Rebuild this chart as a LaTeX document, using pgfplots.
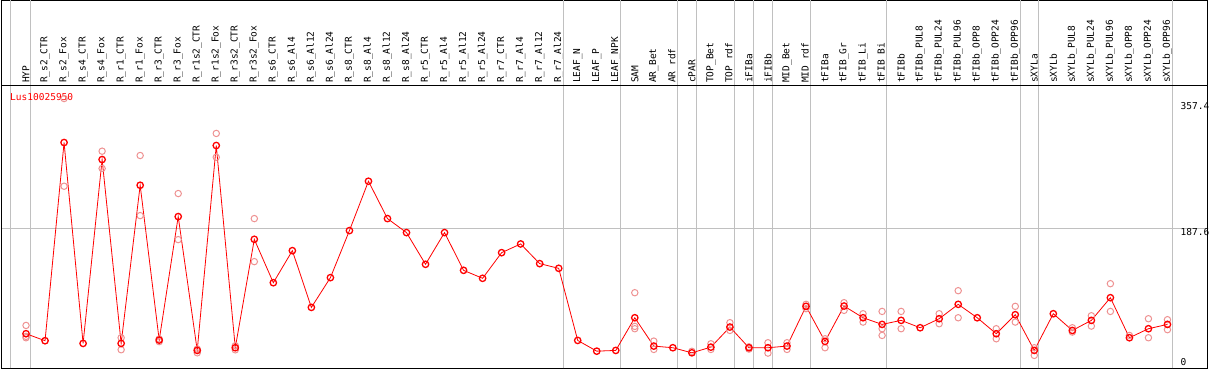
\documentclass[border=0pt]{standalone}
\usepackage{pgfplots}
\pgfplotsset{compat=1.18}
\usepackage{fontspec}
\newfontfamily\mono{DejaVu Sans Mono}
\definecolor{rep}{RGB}{238,146,146}
\definecolor{gridc}{RGB}{192,192,192}
\begin{document}
\begin{tikzpicture}
\begin{axis}[
 scale only axis, width=1204.5pt, height=367.5pt,
 xmin=-1.289, xmax=62.105, ymin=0, ymax=493.5,
 axis line style={black, line width=0.8pt},
 major tick length=0pt,
 xtick={0,...,60},
 xticklabels={HYP,R\_s2\_CTR,R\_s2\_Fox,R\_s4\_CTR,R\_s4\_Fox,R\_r1\_CTR,R\_r1\_Fox,R\_r3\_CTR,R\_r3\_Fox,R\_r1s2\_CTR,R\_r1s2\_Fox,R\_r3s2\_CTR,R\_r3s2\_Fox,R\_s6\_CTR,R\_s6\_Al4,R\_s6\_Al12,R\_s6\_Al24,R\_s8\_CTR,R\_s8\_Al4,R\_s8\_Al12,R\_s8\_Al24,R\_r5\_CTR,R\_r5\_Al4,R\_r5\_Al12,R\_r5\_Al24,R\_r7\_CTR,R\_r7\_Al4,R\_r7\_Al12,R\_r7\_Al24,LEAF\_N,LEAF\_P,LEAF\_NPK,SAM,AR\_Bet,AR\_rdf,cPAR,TOP\_Bet,TOP\_rdf,iFIBa,iFIBb,MID\_Bet,MID\_rdf,tFIBa,tFIB\_Gr,tFIB\_Li,tFIB\_Bi,tFIBb,tFIBb\_PUL8,tFIBb\_PUL24,tFIBb\_PUL96,tFIBb\_OPP8,tFIBb\_OPP24,tFIBb\_OPP96,sXYLa,sXYLb,sXYLb\_PUL8,sXYLb\_PUL24,sXYLb\_PUL96,sXYLb\_OPP8,sXYLb\_OPP24,sXYLb\_OPP96},
 xticklabel style={font=\mono\fontsize{9.5}{10}\selectfont, yshift=285pt, rotate=90, anchor=west, inner sep=0pt},
 grid style={gridc, line width=0.8pt},
 extra x ticks={-0.8,0.25,28.25,31.23,34.25,35.25,37.25,38.25,39.25,41.25,45.25,52.25,53.23,60.25},
 extra x tick labels={},
 extra x tick style={grid=major},
 ytick={187.6}, yticklabels={187.6},
 ymajorgrids=true,
 extra y ticks={0,357.4},
 extra y tick labels={\raisebox{3.5pt}[0pt][0pt]{0},357.4},
 extra y tick style={grid=none},
 yticklabel pos=right,
 yticklabel style={font=\mono\fontsize{9.5}{10}\selectfont, anchor=north west, inner sep=0pt, xshift=-27pt},
]
\draw[black, line width=0.8pt] (rel axis cs:0,0.7693) -- (rel axis cs:1,0.7693);
\node[anchor=west, text=red, font=\mono\fontsize{9.5}{10}\selectfont, inner sep=0pt] at (axis cs:-0.842,363.9) {Lus10025950};
\addplot[only marks, mark=o, mark size=3.2pt, rep, mark options={line width=1pt}] table {
0 57.7
0 41.2
0 43
2 362
2 244.4
4 291.4
4 268.2
5 41.2
5 25.1
6 285.6
6 205
7 39.5
7 36
8 234.6
8 172.8
9 21
9 26
10 315.2
10 283.3
11 30.5
11 25
12 201
12 143.3
32 101.6
32 56.4
32 53.3
33 36.7
33 25.5
35 23
36 33.1
36 25.5
37 61.4
37 51
38 29
38 26
39 34.5
39 20.6
40 34.5
40 25.5
41 86
41 80.2
42 39.8
42 27.8
43 88.2
43 77.9
44 73.4
44 62.2
45 76.5
45 53.3
45 44.3
46 76.5
46 53.3
48 73.4
48 60
49 104.3
49 68
51 53.3
51 39.8
52 83.3
52 62.2
53 27.8
53 17.5
55 54.6
55 48.8
56 70.7
56 56.8
57 113.7
57 76.5
58 44.3
59 66.7
59 41.2
60 65.4
60 52
};
\addplot[red, line width=0.8pt, mark=o, mark size=3.2pt, mark options={line width=1.3pt, red}] table {
0 46.6
1 37.2
2 303
3 33.6
4 280.2
5 33.6
6 245.7
7 38
8 203.7
9 24.2
10 299
11 27.8
12 173.2
13 115
14 158
15 81.9
16 121.8
17 184.9
18 251.1
19 201
20 182.2
21 139.7
22 182.2
23 131.6
24 120.9
25 155.3
26 167
27 140.6
28 134.3
29 37.6
30 23.2
31 24.2
32 68
33 30
34 27.8
35 21
36 28.6
37 55.5
38 27.8
39 27.8
40 30
41 83.3
42 36.3
43 83.7
44 68
45 59.1
46 64.5
47 54.6
48 66.7
49 86
50 68
51 46.6
52 72.1
53 24.2
54 73.4
55 51
56 64.5
57 94.9
58 41.2
59 53.3
60 59.1
};
\end{axis}
\pgfresetboundingbox
\path[use as bounding box] ([shift={(-1.5pt,-2pt)}]current axis.south west) rectangle ([shift={(1.5pt,0.5pt)}]current axis.north east);
\end{tikzpicture}
\end{document}
